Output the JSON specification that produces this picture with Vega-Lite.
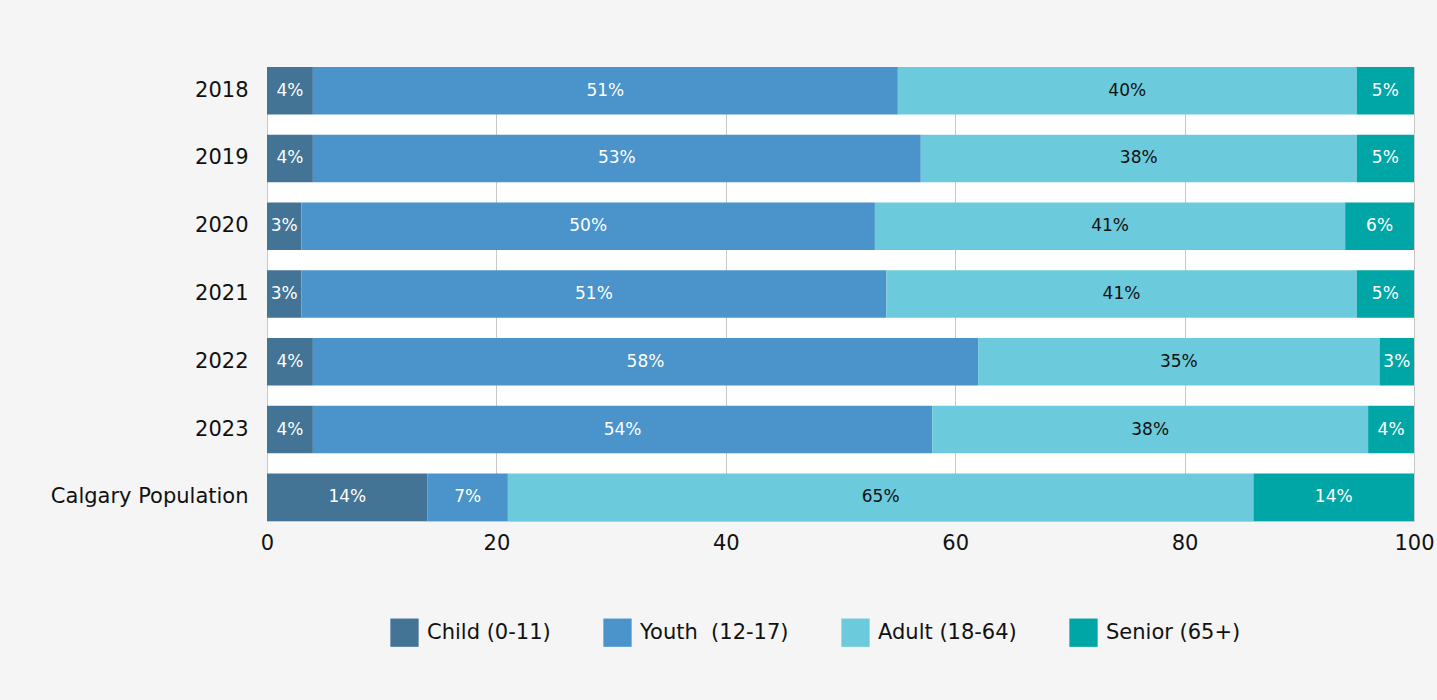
{
  "$schema": "https://vega.github.io/schema/vega-lite/v6.json",
  "width": 1147,
  "height": 454,
  "autosize": {"type": "none"},
  "padding": {"left": 267, "top": 67, "right": 23, "bottom": 179},
  "background": "#f5f5f5",
  "config": {
    "font": "DejaVu Sans",
    "view": {"fill": "#ffffff", "stroke": "#c8c8c8", "strokeWidth": 1}
  },
  "data": {
    "values": [
      {"year": "2018", "group": "Child (0-11)", "o": 1, "value": 4, "label": "4%"},
      {"year": "2018", "group": "Youth\u00a0 (12-17)", "o": 2, "value": 51, "label": "51%"},
      {"year": "2018", "group": "Adult (18-64)", "o": 3, "value": 40, "label": "40%"},
      {"year": "2018", "group": "Senior (65+)", "o": 4, "value": 5, "label": "5%"},
      {"year": "2019", "group": "Child (0-11)", "o": 1, "value": 4, "label": "4%"},
      {"year": "2019", "group": "Youth\u00a0 (12-17)", "o": 2, "value": 53, "label": "53%"},
      {"year": "2019", "group": "Adult (18-64)", "o": 3, "value": 38, "label": "38%"},
      {"year": "2019", "group": "Senior (65+)", "o": 4, "value": 5, "label": "5%"},
      {"year": "2020", "group": "Child (0-11)", "o": 1, "value": 3, "label": "3%"},
      {"year": "2020", "group": "Youth\u00a0 (12-17)", "o": 2, "value": 50, "label": "50%"},
      {"year": "2020", "group": "Adult (18-64)", "o": 3, "value": 41, "label": "41%"},
      {"year": "2020", "group": "Senior (65+)", "o": 4, "value": 6, "label": "6%"},
      {"year": "2021", "group": "Child (0-11)", "o": 1, "value": 3, "label": "3%"},
      {"year": "2021", "group": "Youth\u00a0 (12-17)", "o": 2, "value": 51, "label": "51%"},
      {"year": "2021", "group": "Adult (18-64)", "o": 3, "value": 41, "label": "41%"},
      {"year": "2021", "group": "Senior (65+)", "o": 4, "value": 5, "label": "5%"},
      {"year": "2022", "group": "Child (0-11)", "o": 1, "value": 4, "label": "4%"},
      {"year": "2022", "group": "Youth\u00a0 (12-17)", "o": 2, "value": 58, "label": "58%"},
      {"year": "2022", "group": "Adult (18-64)", "o": 3, "value": 35, "label": "35%"},
      {"year": "2022", "group": "Senior (65+)", "o": 4, "value": 3, "label": "3%"},
      {"year": "2023", "group": "Child (0-11)", "o": 1, "value": 4, "label": "4%"},
      {"year": "2023", "group": "Youth\u00a0 (12-17)", "o": 2, "value": 54, "label": "54%"},
      {"year": "2023", "group": "Adult (18-64)", "o": 3, "value": 38, "label": "38%"},
      {"year": "2023", "group": "Senior (65+)", "o": 4, "value": 4, "label": "4%"},
      {"year": "Calgary Population", "group": "Child (0-11)", "o": 1, "value": 14, "label": "14%"},
      {"year": "Calgary Population", "group": "Youth\u00a0 (12-17)", "o": 2, "value": 7, "label": "7%"},
      {"year": "Calgary Population", "group": "Adult (18-64)", "o": 3, "value": 65, "label": "65%"},
      {"year": "Calgary Population", "group": "Senior (65+)", "o": 4, "value": 14, "label": "14%"}
    ]
  },
  "transform": [
    {"stack": "value", "groupby": ["year"], "sort": [{"field": "o", "order": "ascending"}], "as": ["v0", "v1"]}
  ],
  "encoding": {
    "y": {
      "field": "year",
      "type": "nominal",
      "sort": null,
      "scale": {"paddingInner": 0.3, "paddingOuter": 0},
      "axis": {
        "title": null,
        "domain": false,
        "ticks": false,
        "labelFontSize": 21,
        "labelColor": "#111111",
        "labelPadding": 19,
        "labelLimit": 400
      }
    }
  },
  "layer": [
    {
      "mark": {"type": "bar"},
      "encoding": {
        "x": {
          "field": "v0",
          "type": "quantitative",
          "scale": {"domain": [0, 100], "nice": false},
          "axis": {
            "title": null,
            "values": [0, 20, 40, 60, 80, 100],
            "domain": false,
            "ticks": false,
            "grid": true,
            "gridColor": "#c8c8c8",
            "labelFontSize": 21,
            "labelColor": "#111111",
            "labelPadding": 11,
            "labelFlush": false
          }
        },
        "x2": {"field": "v1"},
        "color": {
          "field": "group",
          "type": "nominal",
          "scale": {
            "domain": ["Child (0-11)", "Youth\u00a0 (12-17)", "Adult (18-64)", "Senior (65+)"],
            "range": ["#437395", "#4a93cb", "#6bcadb", "#00a6a6"]
          },
          "legend": {
            "title": null,
            "orient": "none",
            "direction": "horizontal",
            "legendX": 123,
            "legendY": 551,
            "symbolType": "square",
            "symbolSize": 800,
            "symbolStrokeWidth": 0,
            "symbolOpacity": 1,
            "labelFontSize": 21,
            "labelColor": "#111111",
            "labelOffset": 8,
            "labelLimit": 300,
            "columnPadding": 52
          }
        }
      }
    },
    {
      "transform": [
        {"fold": ["v0", "v1"], "as": ["k", "pos"]},
        {"aggregate": [{"op": "mean", "field": "pos", "as": "mid"}], "groupby": ["year", "group", "label"]}
      ],
      "mark": {"type": "text", "fontSize": 17, "baseline": "middle", "align": "center"},
      "encoding": {
        "x": {"field": "mid", "type": "quantitative"},
        "text": {"field": "label"},
        "color": {
          "condition": {"test": "datum.group === 'Adult (18-64)'", "value": "#111111"},
          "value": "#ffffff"
        }
      }
    }
  ]
}
